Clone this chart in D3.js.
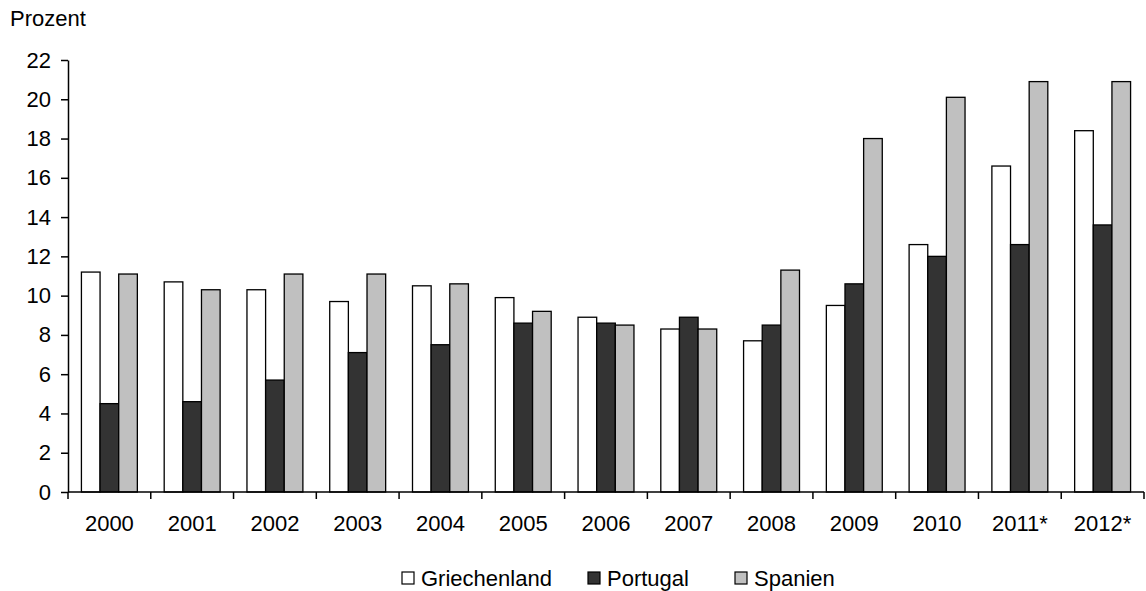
<!DOCTYPE html>
<html>
<head>
<meta charset="utf-8">
<script src="https://cdn.jsdelivr.net/npm/d3@7"></script>
<style>
    body { margin: 0; background: #fff; }
    svg { font-family: "Liberation Sans", Arial, sans-serif; }
    .axis path, .axis line { stroke: #000; stroke-width: 1.5; }
    .axis text { font-size: 22px; fill: #000; }
</style>
</head>
<body>
<div id="chart"></div>
<script>
const years = ["2000","2001","2002","2003","2004","2005","2006","2007","2008","2009","2010","2011*","2012*"];
const seriesNames = ["Griechenland","Portugal","Spanien"];
const griechenland = [11.2,10.7,10.3,9.7,10.5,9.9,8.9,8.3,7.7,9.5,12.6,16.6,18.4];
const portugal = [4.5,4.6,5.7,7.1,7.5,8.6,8.6,8.9,8.5,10.6,12.0,12.6,13.6];
const spanien = [11.1,10.3,11.1,11.1,10.6,9.2,8.5,8.3,11.3,18.0,20.1,20.9,20.9];
const yTicks = [0,2,4,6,8,10,12,14,16,18,20,22];

const width = 1146;
const height = 591;
const margin = {top: 60, right: 2, bottom: 99, left: 68};
const colours = {"Griechenland": "#ffffff", "Portugal": "#333333", "Spanien": "#c0c0c0"};

let svg = d3.select("#chart")
    .append("svg").attr("width", width).attr("height", height);

let x0 = d3.scaleBand().domain(years)
    .range([margin.left, width - margin.right]).padding(0);
let x1 = d3.scaleBand().domain(seriesNames)
    .range([0, x0.bandwidth()]).paddingInner(0).paddingOuter(0.72);
let y = d3.scaleLinear().domain([0, 22])
    .range([height - margin.bottom, margin.top]);

let values = {"Griechenland": griechenland, "Portugal": portugal, "Spanien": spanien};
let rows = years.map(function(yr, i) {
    return {year: yr, bars: seriesNames.map(function(s) {
        return {name: s, value: values[s][i]};
    })};
});

// bars
let groups = svg.append("g").selectAll("g")
    .data(rows)
    .enter()
    .append("g")
    .attr("transform", function(d) { return "translate(" + x0(d.year) + ",0)"; });

groups.selectAll("rect")
    .data(function(d) { return d.bars; })
    .enter()
    .append("rect")
    .attr("x", function(d) { return x1(d.name); })
    .attr("y", function(d) { return y(d.value); })
    .attr("width", x1.bandwidth())
    .attr("height", function(d) { return y(0) - y(d.value); })
    .attr("fill", function(d) { return colours[d.name]; })
    .attr("stroke", "#000")
    .attr("stroke-width", 1.3);

// y axis
svg.append("g")
    .attr("class", "axis")
    .attr("transform", "translate(" + margin.left + ",0)")
    .call(d3.axisLeft(y).tickValues(yTicks).tickSize(7).tickSizeOuter(0).tickPadding(10));

// x axis, ticks between the categories
let xAxis = svg.append("g")
    .attr("class", "axis")
    .attr("transform", "translate(0," + y(0) + ")");
xAxis.append("line")
    .attr("x1", margin.left).attr("x2", width - margin.right)
    .attr("y1", 0).attr("y2", 0);
xAxis.selectAll(".tk")
    .data(years.concat(["end"]))
    .enter()
    .append("line")
    .attr("class", "tk")
    .attr("x1", function(d, i) { return margin.left + i * x0.step(); })
    .attr("x2", function(d, i) { return margin.left + i * x0.step(); })
    .attr("y1", 0).attr("y2", 7);
xAxis.selectAll("text")
    .data(years)
    .enter()
    .append("text")
    .attr("x", function(d) { return x0(d) + x0.bandwidth() / 2; })
    .attr("y", 39)
    .attr("text-anchor", "middle")
    .text(function(d) { return d; });

// unit label
svg.append("text")
    .attr("x", 10).attr("y", 26)
    .style("font-size", "22px")
    .text("Prozent");

// legend
let legendX = {"Griechenland": 402, "Portugal": 588, "Spanien": 735};
let legend = svg.append("g").selectAll("g")
    .data(seriesNames)
    .enter()
    .append("g")
    .attr("transform", function(d) { return "translate(" + legendX[d] + ",572)"; });
legend.append("rect")
    .attr("width", 12).attr("height", 12)
    .attr("fill", function(d) { return colours[d]; })
    .attr("stroke", "#000")
    .attr("stroke-width", 1.2);
legend.append("text")
    .attr("x", 19).attr("y", 14)
    .style("font-size", "22px")
    .text(function(d) { return d; });
</script>
</body>
</html>
